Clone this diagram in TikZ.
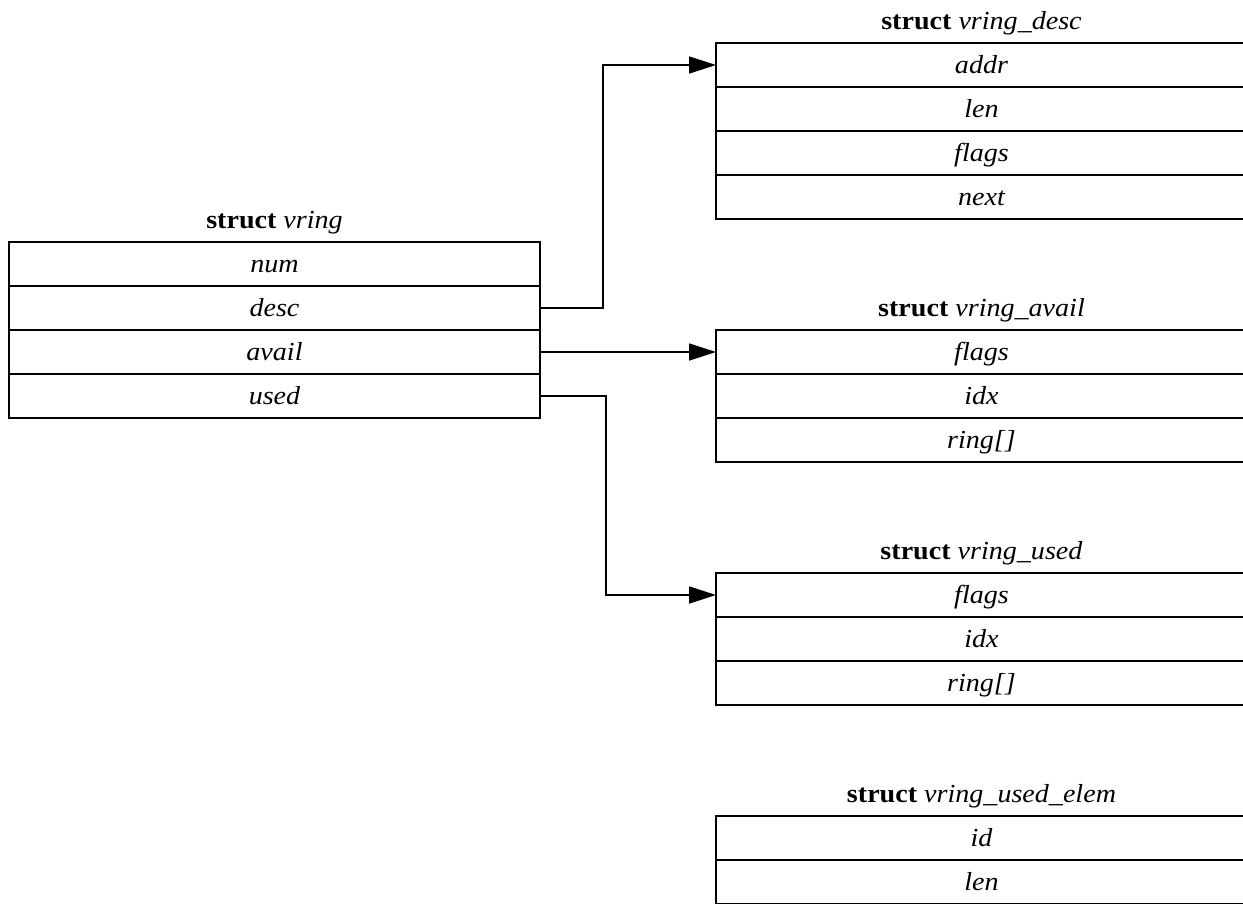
\documentclass[tikz,border=0pt]{standalone}
\usepackage{fontspec}
\setmainfont[FakeStretch=1.08]{Liberation Serif}
\usetikzlibrary{arrows.meta}
\begin{document}
\begin{tikzpicture}[x=1pt,y=-1pt,
  field/.style={draw, line width=1.7pt, minimum width=531pt, minimum height=44pt,
    inner sep=0pt, outer sep=0pt, text height=20pt, text depth=4pt,
    font=\fontsize{26}{30}\selectfont\itshape},
  title/.style={inner sep=0pt, anchor=base, font=\fontsize{26}{30}\selectfont},
  conn/.style={draw, line width=1.7pt},
  arr/.style={conn, -{Triangle[length=27pt,width=17pt]}}]
\useasboundingbox (0,0) rectangle (1243,903);
% struct vring
\node[title] (tv) at (274.5,228) {\textbf{struct} \textit{vring}};
\node[field] (v1) at (274.5,264) {num};
\node[field] (v2) at (274.5,308) {desc};
\node[field] (v3) at (274.5,352) {avail};
\node[field] (v4) at (274.5,396) {used};
% struct vring_desc
\node[title] (td) at (981.5,29) {\textbf{struct} \textit{vring\_desc}};
\node[field] (d1) at (981.5,65) {addr};
\node[field] (d2) at (981.5,109) {len};
\node[field] (d3) at (981.5,153) {flags};
\node[field] (d4) at (981.5,197) {next};
% struct vring_avail
\node[title] (ta) at (981.5,316) {\textbf{struct} \textit{vring\_avail}};
\node[field] (a1) at (981.5,352) {flags};
\node[field] (a2) at (981.5,396) {idx};
\node[field] (a3) at (981.5,440) {ring[]};
% struct vring_used
\node[title] (tu) at (981.5,559) {\textbf{struct} \textit{vring\_used}};
\node[field] (u1) at (981.5,595) {flags};
\node[field] (u2) at (981.5,639) {idx};
\node[field] (u3) at (981.5,683) {ring[]};
% struct vring_used_elem
\node[title] (te) at (981.5,802) {\textbf{struct} \textit{vring\_used\_elem}};
\node[field] (e1) at (981.5,838) {id};
\node[field] (e2) at (981.5,882) {len};
% connectors
\coordinate (k1) at (603,308);
\coordinate (k2) at (606,396);
\draw[arr] (v2.east) -- (k1) |- (d1.west);
\draw[arr] (v3.east) -- (a1.west);
\draw[arr] (v4.east) -- (k2) |- (u1.west);
\end{tikzpicture}
\end{document}
